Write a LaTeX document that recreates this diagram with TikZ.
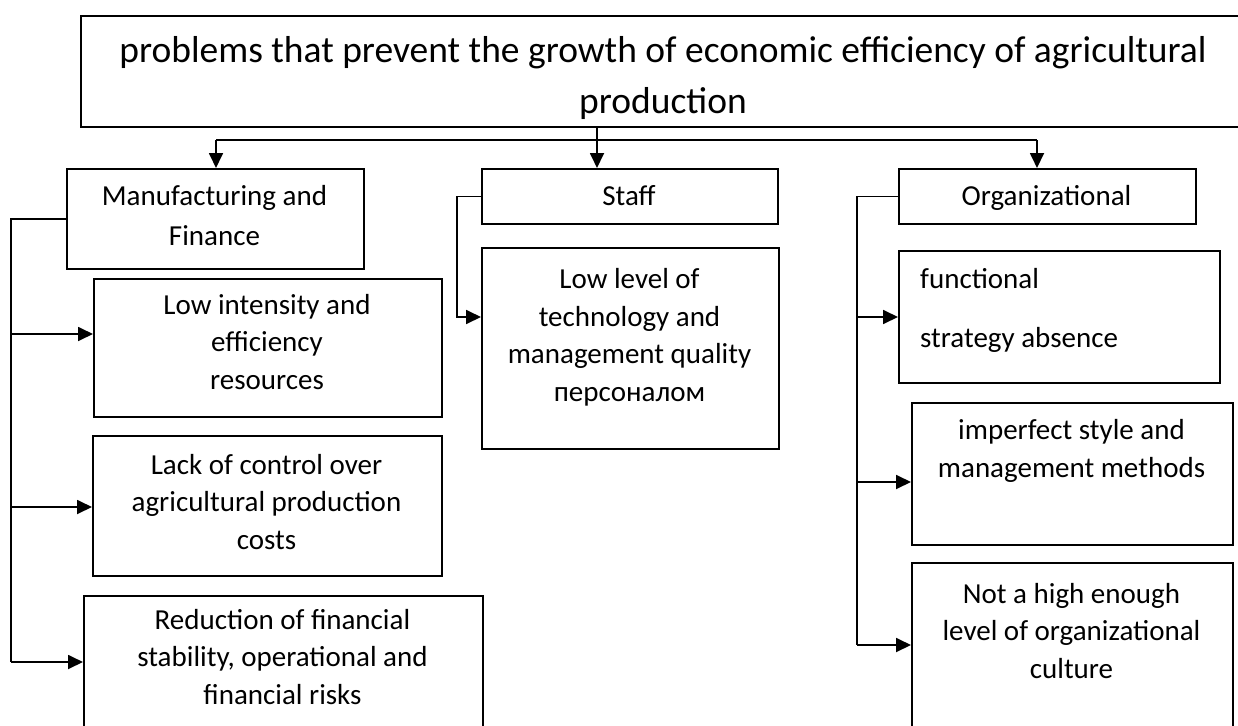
\documentclass[tikz,border=0pt]{standalone}
\usepackage{fontspec}
\setmainfont{Carlito}
\usetikzlibrary{arrows.meta,positioning}

\begin{document}
\begin{tikzpicture}[x=1pt,y=-1pt]
  \tikzset{
    block/.style={draw, line width=1.8pt, anchor=north west, inner sep=0pt},
    lbl/.style={anchor=base, align=center, inner sep=0pt, font=\fontsize{29}{37.5}\selectfont},
    flow/.style={-{Triangle[length=15pt,width=14pt]}, line width=1.8pt},
    wire/.style={line width=1.8pt}
  }
  \useasboundingbox (0,0) rectangle (1238,725);
  \clip (0,0) rectangle (1238,725);

  % boxes
  \node[block, minimum width=1166pt, minimum height=111pt] (root) at (80,15) {};
  \node[block, minimum width=297pt, minimum height=100pt] (manuf) at (66,168) {};
  \node[block, minimum width=296pt, minimum height=55pt] (staff) at (481,168) {};
  \node[block, minimum width=297pt, minimum height=55pt] (org) at (898,168) {};
  \node[block, minimum width=348pt, minimum height=138pt] (lowres) at (93,278) {};
  \node[block, minimum width=349pt, minimum height=140pt] (lack) at (92,435) {};
  \node[block, minimum width=399pt, minimum height=150pt] (reduc) at (83,595) {};
  \node[block, minimum width=297pt, minimum height=201pt] (lowlev) at (481,247) {};
  \node[block, minimum width=321pt, minimum height=132pt] (func) at (898,250) {};
  \node[block, minimum width=321pt, minimum height=142pt] (imperf) at (911,402) {};
  \node[block, minimum width=321pt, minimum height=183pt] (nothigh) at (911,562) {};

  % texts (placed at the baseline of their last line)
  \node[lbl, font=\fontsize{37.5}{51}\selectfont] (roottxt) at (663,113)
    {problems that prevent the growth of economic efficiency of agricultural\\production};
  \node[lbl] (manuftxt) at (214.5,245) {Manufacturing and\\[2.5pt]Finance};
  \node[lbl] (stafftxt) at (629,205) {Staff};
  \node[lbl] (orgtxt) at (1046.5,205) {Organizational};
  \node[lbl] (lowrestxt) at (267,389) {Low intensity and\\efficiency\\resources};
  \node[lbl] (lacktxt) at (266.5,549) {Lack of control over\\agricultural production\\costs};
  \node[lbl] (reductxt) at (282.5,704) {Reduction of financial\\stability, operational and\\financial risks};
  \node[lbl] (lowlevtxt) at (629.5,401) {Low level of\\technology and\\management quality\\персоналом};
  \node[lbl, anchor=base west, align=left] (functxt) at (920,347) {functional\\[21.5pt]strategy absence};
  \node[lbl] (imperftxt) at (1071.5,477) {imperfect style and\\management methods};
  \node[lbl] (nothightxt) at (1071.5,678) {Not a high enough\\level of organizational\\culture};

  % top bus
  \coordinate (busL) at (216,140);
  \coordinate (busM) at (597,140);
  \coordinate (busR) at (1037,140);
  \draw[wire] (busL) -- (busR);
  \draw[flow] (busM |- root.south) -- (busM |- staff.north);
  \draw[flow] (busL) -- (busL |- manuf.north);
  \draw[flow] (busR) -- (busR |- org.north);

  % manufacturing branch
  \coordinate (mf1) at (11,334);
  \coordinate (mf2) at (11,507);
  \coordinate (mf3) at (11,662);
  \draw[wire] (manuf.west) -| (mf3);
  \draw[flow] (mf1) -- (mf1 -| lowres.west);
  \draw[flow] (mf2) -- (mf2 -| lack.west);
  \draw[flow] (mf3) -- (mf3 -| reduc.west);

  % staff branch
  \coordinate (st1) at (457,317);
  \draw[flow] (staff.west) -| (st1) -- (st1 -| lowlev.west);

  % organizational branch
  \coordinate (og1) at (857,317);
  \coordinate (og2) at (857,482);
  \coordinate (og3) at (857,645);
  \draw[wire] (org.west) -| (og3);
  \draw[flow] (og1) -- (og1 -| func.west);
  \draw[flow] (og2) -- (og2 -| imperf.west);
  \draw[flow] (og3) -- (og3 -| nothigh.west);
\end{tikzpicture}
\end{document}
